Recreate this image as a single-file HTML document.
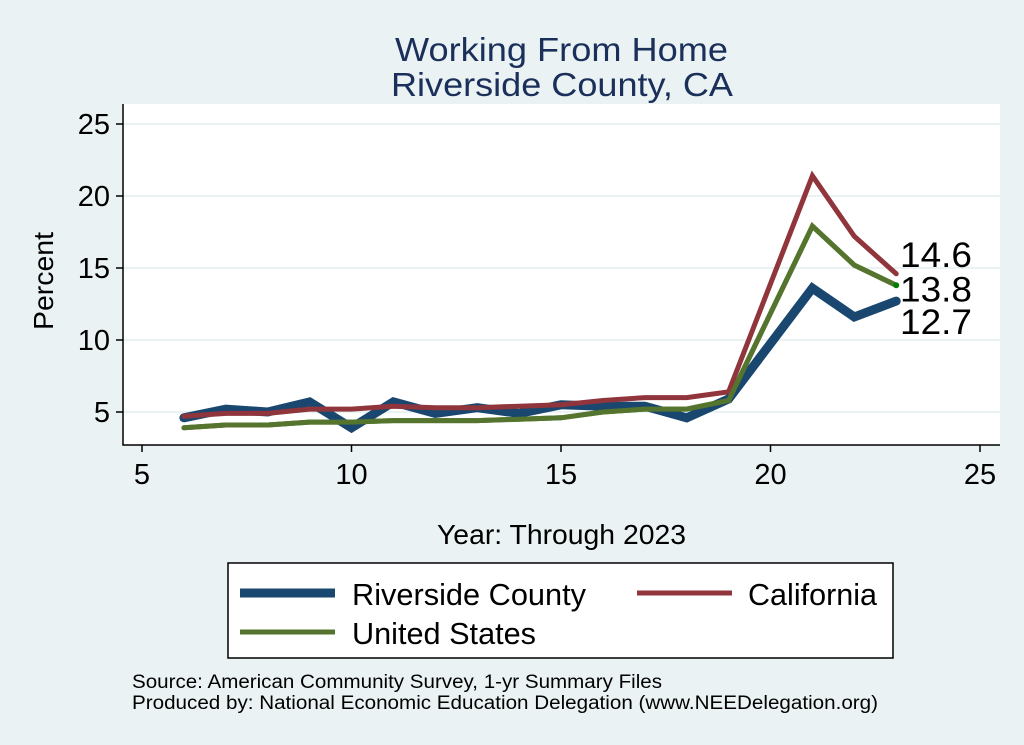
<!DOCTYPE html>
<html><head><meta charset="utf-8"><style>
body{margin:0;background:#eaf2f3;}
svg{display:block;font-family:"Liberation Sans",Arial,sans-serif;}
</style></head><body>
<svg id="chart" width="1024" height="745" viewBox="0 0 1024 745">
<rect x="0" y="0" width="1024" height="745" fill="#eaf2f3"/>
<rect x="123" y="104" width="877" height="341" fill="#ffffff"/>
<text x="395" y="61" textLength="333" lengthAdjust="spacingAndGlyphs" font-size="33" fill="#1a2f5a">Working From Home</text>
<text x="391" y="96" textLength="342" lengthAdjust="spacingAndGlyphs" font-size="33" fill="#1a2f5a">Riverside County, CA</text>
<g id="grid"></g>
<g id="series"></g>
<g id="axes"></g>
<text x="53" y="281" text-anchor="middle" font-size="28" textLength="98" lengthAdjust="spacingAndGlyphs" transform="rotate(-90 53 281)">Percent</text>
<text x="437" y="544" textLength="249" lengthAdjust="spacingAndGlyphs" font-size="28">Year: Through 2023</text>
<g>
<rect x="228" y="563" width="665" height="95" fill="#ffffff" stroke="#000" stroke-width="1.5"/>
<line x1="240" y1="593" x2="335" y2="593" stroke="#1a476f" stroke-width="9"/>
<text x="352" y="605" font-size="31" textLength="234" lengthAdjust="spacingAndGlyphs">Riverside County</text>
<line x1="637" y1="593" x2="732" y2="593" stroke="#90353b" stroke-width="5"/>
<text x="748" y="605" font-size="31" textLength="129" lengthAdjust="spacingAndGlyphs">California</text>
<line x1="240" y1="632" x2="335" y2="632" stroke="#55752f" stroke-width="5"/>
<text x="352" y="644" font-size="31" textLength="184" lengthAdjust="spacingAndGlyphs">United States</text>
</g>
<text x="132" y="688" font-size="19" textLength="530" lengthAdjust="spacingAndGlyphs">Source: American Community Survey, 1-yr Summary Files</text>
<text x="132" y="709" font-size="19" textLength="746" lengthAdjust="spacingAndGlyphs">Produced by: National Economic Education Delegation (www.NEEDelegation.org)</text>
</svg>
<script>
const years = [6,7,8,9,10,11,12,13,14,15,16,17,18,19,21,22,23];
const riverside = [4.6,5.2,5.0,5.7,3.9,5.7,4.9,5.3,4.9,5.5,5.4,5.4,4.6,5.9,13.6,11.6,12.7];
const california = [4.7,4.9,4.9,5.2,5.2,5.4,5.3,5.3,5.4,5.5,5.8,6.0,6.0,6.4,21.4,17.2,14.6];
const unitedStates = [3.9,4.1,4.1,4.3,4.3,4.4,4.4,4.4,4.5,4.6,5.0,5.2,5.2,5.8,17.9,15.2,13.8];
const xTicks = [5,10,15,20,25];
const yTicks = [5,10,15,20,25];

const NS = "http://www.w3.org/2000/svg";
function xs(v){return 142 + (v-5)*41.9;}
function ys(v){return 412 - (v-5)*14.4;}
function mk(tag, attrs, parent){const e=document.createElementNS(NS,tag);for(const k in attrs)e.setAttribute(k,attrs[k]);parent.appendChild(e);return e;}
const grid=document.getElementById('grid'), axes=document.getElementById('axes'), series=document.getElementById('series');

yTicks.forEach(t=>{
  const g=mk('line',{x1:123,x2:1000,y1:ys(t),y2:ys(t),stroke:'#eaf2f3','stroke-width':2},grid);
  
  
  const tk=mk('line',{x1:116,x2:123,y1:ys(t),y2:ys(t),stroke:'#000','stroke-width':1.5},axes);
  
  
  const lb=mk('text',{x:110,y:ys(t)+10,'text-anchor':'end','font-size':29},axes);
  lb.textContent=t;
  
  
});
xTicks.forEach(t=>{
  const tk=mk('line',{x1:xs(t),x2:xs(t),y1:445,y2:452,stroke:'#000','stroke-width':1.5},axes);
  
  
  const lb=mk('text',{x:xs(t),y:484,'text-anchor':'middle','font-size':29},axes);
  lb.textContent=t;
  
  
});
const ax=mk('path',{d:'M123 104 V445 H1000',fill:'none',stroke:'#000','stroke-width':1.5},axes);



function drawLine(vals,color,w,name){
  const d=vals.map((v,i)=>(i?'L':'M')+xs(years[i]).toFixed(1)+' '+ys(v).toFixed(1)).join(' ');
  const p=mk('path',{d:d,fill:'none',stroke:color,'stroke-width':w,'stroke-linejoin':'miter','stroke-linecap':'round'},series);
  
  
}
drawLine(unitedStates,'#55752f',5,'line-united-states');
drawLine(riverside,'#1a476f',9,'line-riverside-county');
drawLine(california,'#90353b',5,'line-california');
drawLine(unitedStates,'#55752f',5,'line-united-states-top');

const last=years.length-1;
const dot=mk('circle',{cx:xs(years[last]),cy:ys(unitedStates[last]),r:3,fill:'#008000'},series);


[[california,-7,'label-california-last'],[unitedStates,16,'label-us-last'],[riverside,33,'label-riverside-last']].forEach(([arr,dy,nm])=>{
  const t=mk('text',{x:900,y:ys(arr[last])+dy,'font-size':35,textLength:72,lengthAdjust:'spacingAndGlyphs'},series);
  t.textContent=arr[last].toFixed(1);
  
  
});
</script>
</body></html>
